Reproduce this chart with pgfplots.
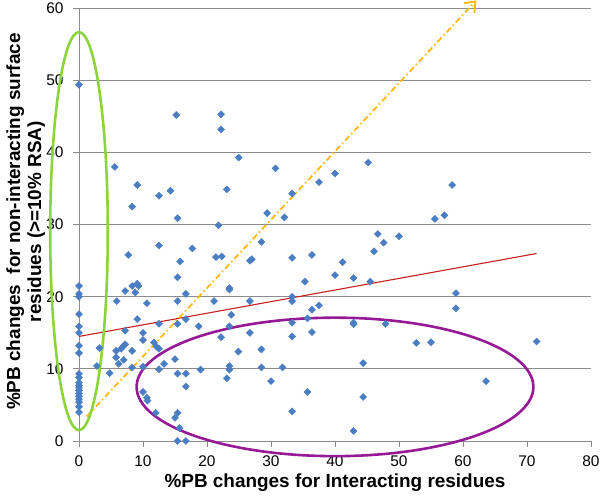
\documentclass[border=0pt]{standalone}
\usepackage{pgfplots}
\pgfplotsset{compat=1.18}
\usepackage{fontspec}
\setmainfont{Liberation Sans}
\usetikzlibrary{calc,arrows.meta}
\definecolor{ptblue}{RGB}{74,126,193}
\definecolor{gridgray}{RGB}{140,140,140}
\definecolor{trendred}{RGB}{200,30,30}
\definecolor{arrorange}{RGB}{255,184,20}
\definecolor{elgreen}{RGB}{140,212,62}
\definecolor{elpurple}{RGB}{150,25,150}
\begin{document}
\begin{tikzpicture}
\begin{axis}[name=ax, scale only axis, width=512bp, height=432.7bp,
  xmin=0, xmax=80, ymin=0, ymax=60,
  xtick={0,10,...,80}, ytick={0,10,...,60},
  axis x line*=bottom, axis y line*=left,
  axis line style={gridgray, line width=1pt, -},
  tick align=outside, major tick length=6bp,
  tick style={gridgray, line width=1pt},
  ymajorgrids, grid style={gridgray, line width=1pt},
  tick label style={font=\fontsize{15.5}{18}\selectfont},
  xticklabel style={yshift=-5bp},
  yticklabel style={xshift=-6bp},
  /pgf/number format/assume math mode=true,
  clip=false,
  xlabel={\%PB changes for Interacting residues},
  xlabel style={font=\bfseries\fontsize{19}{22}\selectfont, at={(axis description cs:0.5,-0.097)}, anchor=center},
  ylabel={\%PB changes~ for non-interacting surface\\residues (>=10\% RSA)},
  ylabel style={font=\bfseries\fontsize{19}{21}\selectfont, align=center, at={(axis description cs:-0.104,0.507)}, anchor=center},
]
\addplot[only marks, mark=square*, mark size=2.5bp, mark options={rotate=45, fill=ptblue, draw=ptblue}] coordinates {
(0,49.4) (0,21.5) (0,20.4) (0,20.0) (0,17.6) (0,15.9) (0,15.0) (0,13.2) (0,12.2) (0,9.3) (0,8.8)
(0,8.1) (0,7.7) (0,7.4) (0,7.0) (0,6.6) (0,6.2) (0,5.8) (0,5.4) (0,4.75) (0,4.0)
(2.8,10.4) (3.2,12.9) (4.8,9.4) (5.6,38.0) (5.8,12.5) (5.8,11.6) (6.2,10.7) (5.9,19.4)
(6.6,12.8) (6.9,13.1) (7.2,13.4) (7.0,11.25) (7.2,15.3) (7.2,20.8) (7.7,25.8) (8.3,32.5)
(8.3,21.5) (8.3,12.5) (8.3,10.2) (8.8,20.6) (9.1,21.8) (9.3,21.5) (9.1,35.5) (9.1,16.9)
(10.0,15.0) (10.0,14.0) (10.0,10.3) (10.0,6.8) (10.6,19.1) (10.6,6.0) (10.7,5.6)
(11.7,13.65) (12.1,13.1) (12.5,12.8) (12.0,3.9) (12.5,34.0) (12.5,27.1) (12.5,16.25)
(12.5,9.95) (13.3,10.7) (14.3,34.7) (15.0,11.35) (15.0,3.2) (15.2,45.2) (15.4,30.9)
(15.4,22.7) (15.4,19.4) (15.4,16.25) (15.4,9.35) (15.4,3.9) (15.7,1.8) (15.4,0) (16.7,0)
(15.8,24.9) (16.7,20.4) (16.7,16.9) (16.7,9.35) (16.7,7.55) (17.7,26.7) (18.7,15.9) (19.0,9.9)
(21.1,19.4) (21.8,29.9) (21.4,25.5) (22.3,25.6) (22.2,45.3) (22.2,43.2) (22.2,14.4)
(23.1,34.9) (23.1,8.7) (23.5,21.2) (23.5,21.0) (23.8,17.5) (23.5,15.9) (23.5,10.4) (23.5,9.9)
(24.95,39.3) (24.9,12.4) (26.7,25.0) (27.0,25.2) (26.7,19.4) (26.7,15.0) (28.5,27.6)
(28.5,12.7) (28.5,10.2) (29.4,31.6) (30.0,8.3) (30.7,37.8) (31.8,10.2) (32.1,31.0)
(33.3,34.3) (33.3,25.4) (33.3,20.0) (33.3,19.4) (33.3,16.4) (33.3,14.5) (33.3,4.1)
(35.3,22.1) (35.7,17.0) (35.7,6.8) (36.4,25.8) (36.4,18.2) (36.4,15.1) (37.5,35.9) (37.5,18.8)
(40.0,37.1) (40.0,23.0) (41.2,24.8) (42.9,22.6) (42.9,16.4) (42.9,16.2) (42.9,1.4)
(44.4,10.8) (44.4,6.1) (45.2,38.6) (45.5,22.1) (46.1,26.3) (46.7,28.7) (47.6,27.5)
(47.9,16.25) (50.0,28.4) (52.7,13.6) (55.0,13.7) (55.6,30.8) (57.1,31.3) (58.3,35.5)
(58.9,20.5) (58.9,18.4) (63.6,8.3) (71.5,13.8)
};
\addplot[trendred, line width=1.1bp] coordinates {(0,14.5) (71.5,26.0)};
\addplot[arrorange, line width=1.8bp, dash pattern=on 6bp off 3bp on 1.5bp off 3bp,
  -{Straight Barb[length=9bp, width=14bp, line width=1.8bp]}] coordinates {(1.2,3.4) (62.1,61.1)};
\draw[elgreen, line width=2.6bp] (axis cs:0,29.1) ellipse [x radius=4.5, y radius=27.6];
\draw[elpurple, line width=2.6bp] (axis cs:40,7.5) ellipse [x radius=31, y radius=9.6];
\end{axis}
\pgfresetboundingbox
\path ($(ax.south west)+(-79bp,-57bp)$) rectangle ($(ax.south west)+(521bp,441bp)$);
\end{tikzpicture}
\end{document}
